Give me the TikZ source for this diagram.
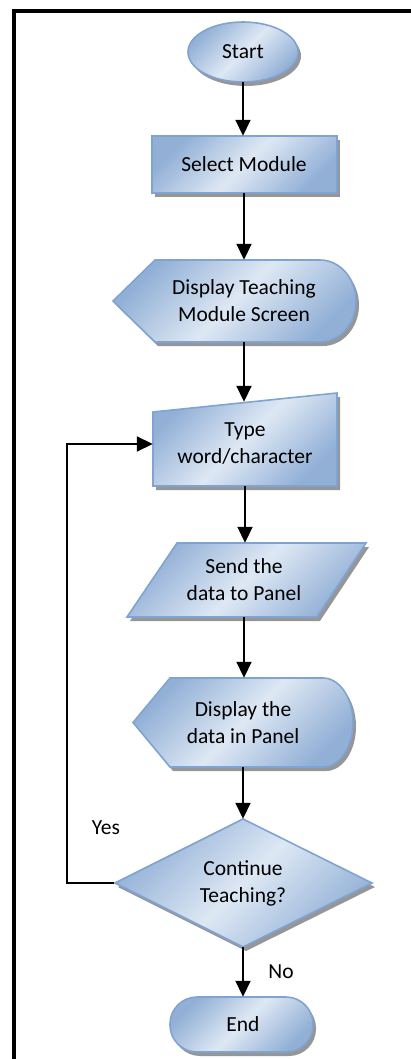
\documentclass[tikz,border=0pt]{standalone}
\usepackage{fontspec}
\setmainfont{Carlito}
\usetikzlibrary{arrows.meta,shapes.geometric,shapes.misc}
\definecolor{bdark}{RGB}{146,176,214}
\definecolor{blight}{RGB}{222,232,244}
\definecolor{bline}{RGB}{128,164,210}
\definecolor{shad}{RGB}{150,150,150}
\tikzset{
  fc/.style={draw=bline, line width=1.6pt, left color=bdark, right color=bdark, middle color=blight, shading angle=45},
  shd/.style={fill=shad, draw=none},
  txt/.style={font=\fontsize{21.5}{27}\selectfont, align=center, inner sep=0pt},
  arr/.style={line width=1.8pt, -{Triangle[width=15pt,length=16pt]}},
  lbl/.style={font=\fontsize{21.5}{27}\selectfont, inner sep=0pt}
}
\begin{document}
\begin{tikzpicture}[x=1pt,y=-1pt]
\useasboundingbox (0,0) rectangle (411,1059);
% frame
\draw[line width=4pt] (14,1059) -- (14,11) -- (411,11);
% Start
\fill[shd] (246,56) ellipse [x radius=55, y radius=30];
\path[fc] (243,52) ellipse [x radius=55, y radius=30];
\node[txt, minimum width=110pt, minimum height=60pt] (start) at (243,52) {Start};
% Select Module
\fill[shd] (155,140) rectangle (340,197);
\path[fc] (152,136) rectangle (337,193);
\node[txt, minimum width=185pt, minimum height=57pt] (sel) at (244,164.5) {Select Module};
% Display Teaching Module Screen
\fill[shd] (116,305) -- (158,264) -- (323,264) .. controls (342.9,264) and (359,282.4) .. (359,305) .. controls (359,327.6) and (342.9,346) .. (323,346) -- (158,346) -- cycle;
\path[fc] (113,301) -- (155,260) -- (320,260) .. controls (339.9,260) and (356,278.4) .. (356,301) .. controls (356,323.6) and (339.9,342) .. (320,342) -- (155,342) -- cycle;
\node[txt, minimum width=200pt, minimum height=82pt] (disp) at (244,301) {Display Teaching\\Module Screen};
% Type word/character
\fill[shd] (156,416) -- (340,397) -- (340,490) -- (156,490) -- cycle;
\path[fc] (153,412) -- (337,393) -- (337,486) -- (153,486) -- cycle;
\node[txt, minimum width=184pt, minimum height=84pt] (type) at (245,444) {Type\\word/character};
% Send the data to Panel
\fill[shd] (180,547) -- (369,547) -- (320,621) -- (130,621) -- cycle;
\path[fc] (177,543) -- (366,543) -- (317,617) -- (127,617) -- cycle;
\node[txt, minimum width=140pt, minimum height=74pt] (send) at (244,580) {Send the\\data to Panel};
% Display the data in Panel
\fill[shd] (136,726.5) -- (173,682) -- (326,682) .. controls (342.6,682) and (356,701.9) .. (356,726.5) .. controls (356,751.1) and (342.6,771) .. (326,771) -- (173,771) -- cycle;
\path[fc] (133,722.5) -- (170,678) -- (323,678) .. controls (339.6,678) and (353,697.9) .. (353,722.5) .. controls (353,747.1) and (339.6,767) .. (323,767) -- (170,767) -- cycle;
\node[txt, minimum width=150pt, minimum height=89pt] (show) at (243,722.5) {Display the\\data in Panel};
% Continue Teaching?
\fill[shd] (246,823) -- (375,887) -- (246,951) -- (118,887) -- cycle;
\path[fc] (243,819) -- (372,883) -- (243,947) -- (115,883) -- cycle;
\node[txt, diamond, minimum width=257pt, minimum height=128pt, aspect=2] (cont) at (243,883) {Continue\\Teaching?};
% End
\fill[shd, rounded corners=27pt] (173,1001) rectangle (316,1056);
\path[fc, rounded corners=27pt] (170,997) rectangle (313,1052);
\node[txt, minimum width=143pt, minimum height=55pt] (endn) at (243,1024.5) {End};
% connectors
\draw[arr] (start.south) -- (start.south |- sel.north);
\draw[arr] (sel.south) -- (sel.south |- disp.north);
\draw[arr] (disp.south) -- (disp.south |- type.north);
\draw[arr] (type.south) -- (type.south |- send.north);
\draw[arr] (send.south) -- (send.south |- show.north);
\draw[arr] (show.south) -- (show.south |- cont.north);
\draw[arr] (cont.south) -- (cont.south |- endn.north);
\coordinate (lp) at (67,883);
\draw[arr] (cont.west) -- (lp) |- (type.west);
\node[lbl] (yes) at (106,828) {Yes};
\node[lbl] (no) at (281,972) {No};
\end{tikzpicture}
\end{document}
